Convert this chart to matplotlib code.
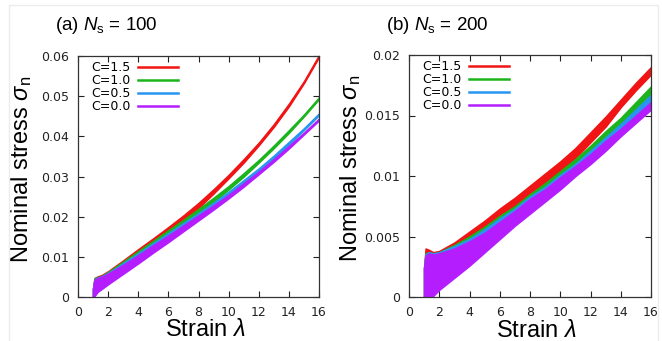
import matplotlib
matplotlib.use('Agg')
import numpy as np
import matplotlib.pyplot as plt
from matplotlib.lines import Line2D
from matplotlib.patches import Rectangle

plt.rcParams['mathtext.fontset'] = 'custom'
plt.rcParams['mathtext.rm'] = 'Liberation Sans'
plt.rcParams['mathtext.it'] = 'Liberation Sans:italic'

strain = [1.0, 1.1, 1.3, 1.6, 2, 3, 4, 5, 6, 7, 8, 9, 10, 11, 12, 13, 14, 15, 16]

labels = ['C=1.5', 'C=1.0', 'C=0.5', 'C=0.0']
colors = ['#f01414', '#1cb41c', '#2896f0', '#b41eff']

# (a) Ns = 100 : centre of each noisy curve
red_a = [0.0010, 0.0027, 0.0034, 0.0040, 0.0051, 0.0080, 0.0109, 0.0137, 0.0166, 0.0196,
         0.0228, 0.0263, 0.0300, 0.0339, 0.0381, 0.0427, 0.0478, 0.0535, 0.0600]
green_a = [0.0010, 0.0027, 0.0032, 0.0038, 0.0049, 0.0077, 0.0104, 0.0131, 0.0158, 0.0185,
           0.0213, 0.0242, 0.0272, 0.0304, 0.0338, 0.0374, 0.0412, 0.0452, 0.0495]
blue_a = [0.0010, 0.0024, 0.0031, 0.0037, 0.0047, 0.0073, 0.0099, 0.0125, 0.0151, 0.0177,
          0.0203, 0.0230, 0.0258, 0.0287, 0.0317, 0.0349, 0.0383, 0.0418, 0.0455]
purple_a = [0.0010, 0.0023, 0.0030, 0.0036, 0.0045, 0.0069, 0.0094, 0.0120, 0.0145, 0.0171,
            0.0197, 0.0223, 0.0250, 0.0279, 0.0309, 0.0340, 0.0373, 0.0407, 0.0442]
# half width of the noise band
spread_a = [0.0010, 0.0020, 0.0017, 0.0015, 0.0013, 0.0011, 0.0010, 0.0009, 0.0008, 0.0007,
            0.0006, 0.0005, 0.0004, 0.0004, 0.0003, 0.0003, 0.0003, 0.0002, 0.0002]

# (b) Ns = 200
red_b = [0.0012, 0.0023, 0.0021, 0.0020, 0.0023, 0.0033, 0.0044, 0.0055, 0.0066, 0.0076,
         0.0086, 0.0097, 0.0107, 0.0119, 0.0132, 0.0145, 0.0160, 0.0174, 0.0187]
green_b = [0.0012, 0.0019, 0.0019, 0.0019, 0.0022, 0.0031, 0.0040, 0.0050, 0.0060, 0.0069,
           0.0079, 0.0089, 0.0099, 0.0110, 0.0121, 0.0133, 0.0145, 0.0158, 0.0171]
blue_b = [0.0012, 0.0018, 0.0019, 0.0019, 0.0022, 0.0030, 0.0038, 0.0048, 0.0058, 0.0067,
          0.0077, 0.0086, 0.0096, 0.0106, 0.0117, 0.0128, 0.0140, 0.0152, 0.0164]
purple_b = [0.0012, 0.0017, 0.0018, 0.0018, 0.0021, 0.0028, 0.0036, 0.0045, 0.0055, 0.0065,
            0.0075, 0.0084, 0.0094, 0.0104, 0.0114, 0.0125, 0.0136, 0.0147, 0.0158]
spread_b = [0.0012, 0.0017, 0.0018, 0.0017, 0.0015, 0.0012, 0.0010, 0.0008, 0.0007, 0.0006,
            0.0006, 0.0005, 0.0005, 0.0004, 0.0004, 0.0004, 0.0003, 0.0003, 0.0003]

panels = [
    ('(a) $N_{\\mathrm{s}}$ = 100', [red_a, green_a, blue_a, purple_a], spread_a,
     0.06, np.arange(0, 0.061, 0.01), ['0', '0.01', '0.02', '0.03', '0.04', '0.05', '0.06']),
    ('(b) $N_{\\mathrm{s}}$ = 200', [red_b, green_b, blue_b, purple_b], spread_b,
     0.02, np.arange(0, 0.0201, 0.005), ['0', '0.005', '0.01', '0.015', '0.02']),
]

fig = plt.figure(figsize=(6.62, 3.41), dpi=100)
W, H = 662.0, 341.0

# faint slide frame around the figure
fig.add_artist(Rectangle((9 / W, -0.05), 649 / W, 1.05 - 5 / H, transform=fig.transFigure,
                         fill=False, edgecolor='#ececec', linewidth=1.0))

boxes = [[78 / W, 1 - 297 / H, 241 / W, 241 / H],
         [409 / W, 1 - 297 / H, 242 / W, 242 / H]]
title_x = [55 / W, 386 / W]
ylab_x = [-0.183, -0.19]

for k, (title, series, spread, ymax, yticks, yticklabels) in enumerate(panels):
    ax = fig.add_axes(boxes[k])
    sp = np.array(spread)
    for vals, c in zip(series, colors):
        v = np.array(vals)
        ax.fill_between(strain, v - sp, v + sp, facecolor=c, edgecolor=c, linewidth=1.2)

    ax.set_xlim(0, 16)
    ax.set_ylim(0, ymax)
    ax.set_xticks(range(0, 17, 2))
    ax.set_yticks(yticks)
    ax.set_yticklabels(yticklabels)
    ax.tick_params(direction='in', length=4, width=0.8, top=True, right=True,
                   labelsize=9, colors='#222222', pad=6.5)
    for s in ax.spines.values():
        s.set_color('#333333')
        s.set_linewidth(0.9)

    ax.set_ylabel('Nominal stress $\\sigma_{\\mathrm{n}}$', fontsize=17,
                  family='Liberation Sans')
    ax.yaxis.set_label_coords(ylab_x[k], 0.53)
    ax.set_xlabel('Strain $\\lambda$', fontsize=17, family='Liberation Sans')
    ax.xaxis.set_label_coords(0.527, -0.093)

    handles = [Line2D([], [], color=c, lw=1.8) for c in colors]
    ax.legend(handles, labels, loc='upper left', bbox_to_anchor=(0.02, 1.015),
              frameon=False, markerfirst=False, fontsize=9, labelspacing=0.0,
              handlelength=3.2, handletextpad=0.6, borderaxespad=0.3)

    fig.text(title_x[k], 1 - 25 / H, title, fontsize=13.5, family='Liberation Sans',
             va='center', ha='left')

fig.savefig('out.png', dpi=100)
